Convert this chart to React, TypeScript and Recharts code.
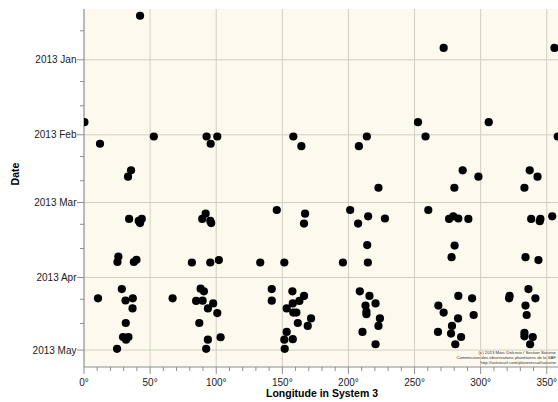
import { ScatterChart, Scatter, XAxis, YAxis, CartesianGrid } from 'recharts';

// Longitude (System 3, degrees) of each observed feature
const longitude = [
  42.4, 0.3, 12.1, 35.6, 33.3, 52.8, 92.7, 95.8, 100.8, 158.3, 164.4, 213.9, 207.9, 222.7,
  272.0, 355.8, 252.6, 258.3, 306.1, 358.3, 286.4, 298.3, 280.1, 337.1, 343.0, 333.1,
  34.1, 41.4, 43.7, 42.4, 26.0, 25.3, 37.7, 39.7, 10.6, 28.6, 31.4, 36.9, 36.7, 31.6,
  29.5, 31.8, 33.6, 25.0,
  92.0, 89.4, 95.5, 96.2, 81.6, 95.5, 102.0, 67.0, 88.2, 90.7, 84.8, 89.7, 97.7, 93.7,
  100.8, 87.2, 103.3, 93.7, 92.4,
  145.8, 167.2, 166.4, 133.3, 151.5, 201.3, 207.3, 214.9, 227.6, 214.2, 195.8, 214.7,
  142.0, 142.0, 157.6, 166.4, 162.9, 157.9, 153.3, 158.3, 160.6, 171.7, 161.7, 169.2,
  153.3, 151.5, 157.9, 151.8,
  208.6, 215.9, 220.5, 212.9, 213.6, 213.6, 223.8, 222.7, 210.6, 220.5,
  260.4, 276.1, 279.3, 283.1, 290.7, 280.3, 278.0, 338.2, 345.2, 344.7, 354.1, 333.9, 343.7,
  268.0, 272.0, 283.1, 293.5, 294.7, 282.9, 278.3, 267.7, 277.6, 285.2, 280.8,
  336.1, 321.9, 321.5, 341.4, 333.9, 334.8, 333.1, 333.1, 339.4, 337.4,
];

// Observation date, in days counted from 2013-01-01
const day = [
  -18.2, 25.8, 34.7, 45.7, 48.3, 31.7, 31.7, 34.7, 31.7, 31.7, 35.7, 31.7, 35.7, 52.9,
  -4.9, -4.9, 25.8, 31.7, 25.8, 31.7, 45.7, 48.3, 52.9, 45.7, 48.3, 52.9,
  65.8, 66.6, 65.8, 67.5, 81.4, 83.6, 83.6, 82.7, 98.6, 94.8, 99.5, 98.6, 102.8, 108.8,
  114.6, 115.7, 114.6, 119.5,
  63.6, 65.8, 66.6, 67.5, 83.8, 83.8, 82.8, 98.6, 94.6, 95.7, 99.7, 99.6, 100.7, 102.8,
  104.7, 108.8, 114.7, 115.7, 119.5,
  62.1, 63.6, 67.7, 83.8, 83.8, 62.1, 67.7, 64.7, 65.6, 76.6, 83.8, 83.8,
  94.8, 99.6, 95.7, 97.6, 99.7, 100.7, 102.8, 104.5, 104.5, 106.9, 108.8, 110.0,
  112.5, 115.7, 115.5, 119.5,
  95.7, 97.6, 100.7, 101.6, 104.1, 105.2, 106.9, 110.0, 112.5, 117.6,
  62.1, 65.8, 64.7, 65.6, 65.8, 76.8, 81.6, 65.8, 65.8, 66.7, 64.7, 81.6, 82.8,
  101.6, 104.5, 97.6, 98.6, 105.5, 106.9, 110.0, 112.5, 113.2, 114.6, 117.6,
  94.8, 97.6, 98.6, 98.6, 101.6, 105.5, 112.9, 114.3, 114.6, 117.6,
];

const xMajorTicks = [0, 50, 100, 150, 200, 250, 300, 350];
const xMinorTicks = [10, 20, 30, 40, 60, 70, 80, 90, 110, 120, 130, 140, 160, 170, 180, 190,
  210, 220, 230, 240, 260, 270, 280, 290, 310, 320, 330, 340];

// month starts (days from 2013-01-01) and the 10th / 20th of each month
const yMajorTicks = [0, 31, 59, 90, 120];
const yMajorLabels = ['2013 Jan', '2013 Feb', '2013 Mar', '2013 Apr', '2013 May'];
const yMinorTicks = [-12, 9, 19, 40, 50, 68, 78, 99, 109];

const credits = [
  '(c) 2013 Marc Delcroix / Section Saturne',
  'Commission des observations planétaires de la SAF',
  'http://astrosurf.com/planetessaf/saturne',
];

const FONT = '"Liberation Sans", Arial, sans-serif';
const AXIS = '#8f8f8f';
const GRID = '#d2cec3';

const points = longitude.map((lon, i) => ({ lon, day: day[i] }));

function XTick({ x, y, payload }: any) {
  const major = xMajorTicks.includes(payload.value);
  return (
    <g>
      <line x1={x} x2={x} y1={y} y2={y + (major ? 7 : 4)} stroke={AXIS} />
      {major && (
        <text x={x} y={y + 18.5} textAnchor="middle" fontSize={10} fontFamily={FONT} fill="#1a1a1a">
          {payload.value}°
        </text>
      )}
    </g>
  );
}

function YTick({ x, y, payload }: any) {
  const idx = yMajorTicks.indexOf(payload.value);
  const major = idx >= 0;
  return (
    <g>
      <line x1={x} x2={x - (major ? 7 : 4)} y1={y} y2={y} stroke={AXIS} />
      {major && (
        <text x={x - 7.5} y={y} dy="0.35em" textAnchor="end" fontSize={10} fontFamily={FONT} fill="#1a1a1a">
          {yMajorLabels[idx]}
        </text>
      )}
    </g>
  );
}

function DateLabel({ viewBox }: any) {
  const cx = viewBox.x + 15;
  const cy = viewBox.y + viewBox.height / 2 - 14;
  return (
    <text
      x={cx}
      y={cy}
      transform={`rotate(-90 ${cx} ${cy})`}
      textAnchor="middle"
      dominantBaseline="central"
      fontSize={10.5}
      fontWeight="bold"
      fontFamily={FONT}
      fill="#000"
    >
      Date
    </text>
  );
}

function Dot({ cx, cy }: any) {
  return <circle cx={cx} cy={cy} r={4.1} fill="#000" />;
}

export default function App() {
  return (
    <div
      style={{
        position: 'fixed',
        left: 0,
        top: 0,
        width: 558,
        height: 402,
        overflow: 'hidden',
        background: '#fff',
        fontFamily: FONT,
      }}
    >
      <ScatterChart width={560} height={402} margin={{ top: 9, right: 0, bottom: 0, left: 0 }}>
        <CartesianGrid
          fill="#fdf9ee"
          stroke={GRID}
          horizontalValues={yMajorTicks}
          verticalValues={xMajorTicks}
        />
        <XAxis
          type="number"
          dataKey="lon"
          domain={[0, 360]}
          ticks={[...xMajorTicks, ...xMinorTicks].sort((a, b) => a - b)}
          interval={0}
          allowDataOverflow
          height={35}
          tickSize={0}
          tickMargin={0}
          tickLine={false}
          axisLine={{ stroke: AXIS }}
          tick={<XTick />}
          label={{
            value: 'Longitude in System 3',
            position: 'insideBottom',
            offset: 5,
            fontSize: 10.5,
            fontWeight: 'bold',
            fontFamily: FONT,
            fill: '#000',
          }}
        />
        <YAxis
          type="number"
          dataKey="day"
          domain={[-21, 127]}
          reversed
          ticks={[...yMajorTicks, ...yMinorTicks].sort((a, b) => a - b)}
          interval={0}
          allowDataOverflow
          width={84}
          tickSize={0}
          tickMargin={0}
          tickLine={false}
          axisLine={{ stroke: AXIS }}
          tick={<YTick />}
          label={<DateLabel />}
        />
        <Scatter data={points} shape={<Dot />} isAnimationActive={false} />
      </ScatterChart>
      <svg
        width={558}
        height={402}
        style={{ position: 'absolute', left: 0, top: 0, pointerEvents: 'none' }}
      >
        {credits.map((line, i) => (
          <text
            key={line}
            x={556}
            y={353.8 + i * 5.1}
            textAnchor="end"
            fontSize={4.3}
            fontFamily={FONT}
            fill="#333"
          >
            {line}
          </text>
        ))}
      </svg>
    </div>
  );
}
